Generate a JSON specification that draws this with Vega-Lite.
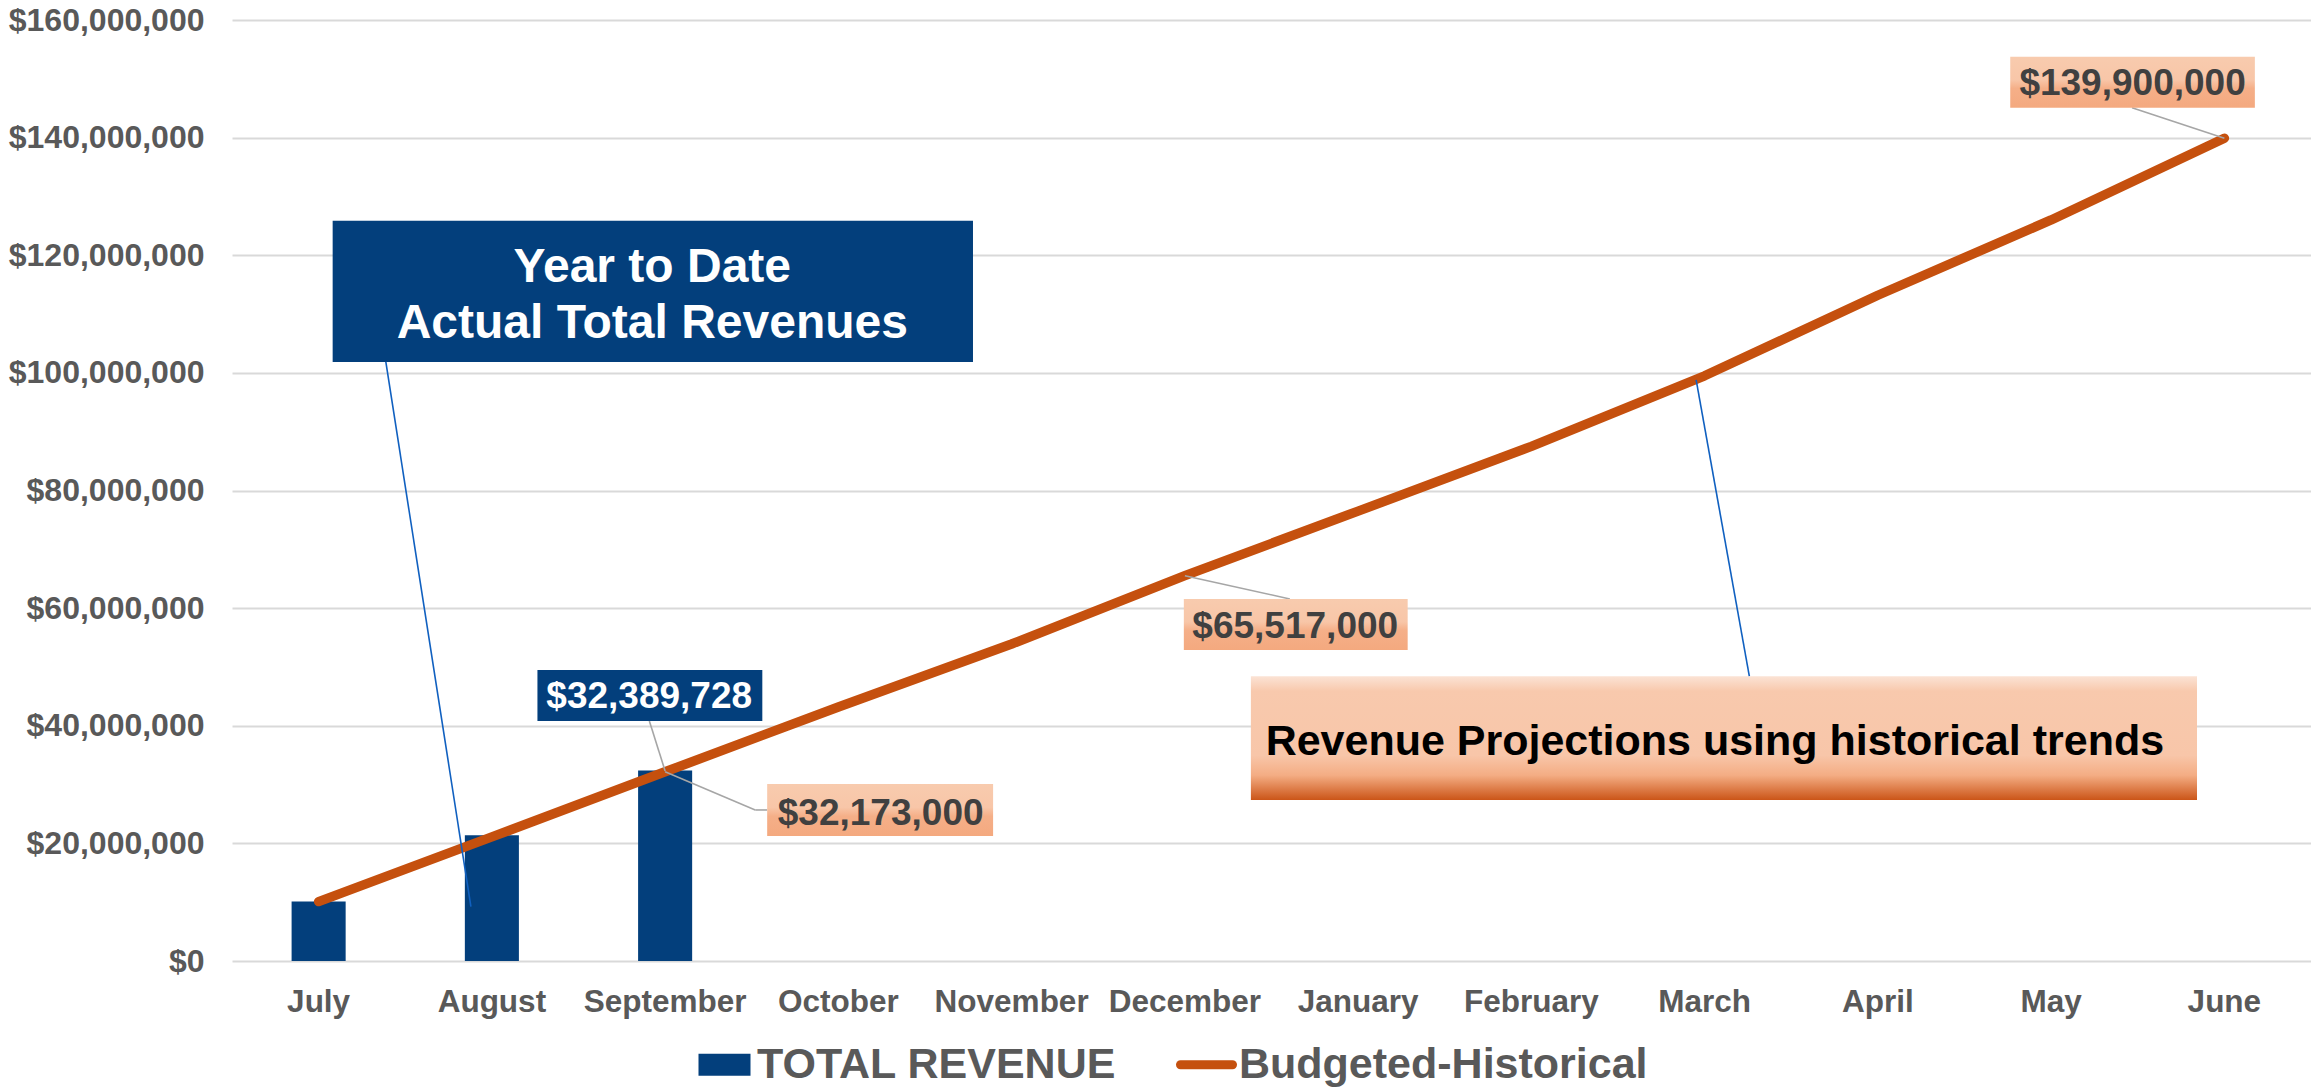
{
  "$schema": "https://vega.github.io/schema/vega-lite/v6.json",
  "width": 2079,
  "height": 941,
  "autosize": "none",
  "padding": {"left": 232, "top": 20, "right": 0, "bottom": 130},
  "background": "white",
  "config": {
    "view": {"stroke": null},
    "font": "Liberation Sans",
    "axis": {"labelFont": "Liberation Sans", "labelFontWeight": "bold", "labelColor": "#595959", "ticks": false, "domain": false, "grid": false, "title": null}
  },
  "datasets": {
    "months": [
      {"month": "July", "revenue": 10100000, "budget": 10100000},
      {"month": "August", "revenue": 21400000, "budget": 21100000},
      {"month": "September", "revenue": 32389728, "budget": 32173000},
      {"month": "October", "revenue": null, "budget": 43200000},
      {"month": "November", "revenue": null, "budget": 53900000},
      {"month": "December", "revenue": null, "budget": 65517000},
      {"month": "January", "revenue": null, "budget": 76500000},
      {"month": "February", "revenue": null, "budget": 87500000},
      {"month": "March", "revenue": null, "budget": 99500000},
      {"month": "April", "revenue": null, "budget": 113200000},
      {"month": "May", "revenue": null, "budget": 126000000},
      {"month": "June", "revenue": null, "budget": 139900000}
    ],
    "blueBoxes": [
      {"x": 0.081, "x2": 3.777, "y": 125850000, "y2": 101870000},
      {"x": 1.263, "x2": 2.561, "y": 49490000, "y2": 40820000}
    ],
    "salmonBoxes": [
      {"x": 2.589, "x2": 3.893, "y": 30100000, "y2": 21260000},
      {"x": 4.994, "x2": 6.286, "y": 61560000, "y2": 52890000},
      {"x": 9.764, "x2": 11.176, "y": 153740000, "y2": 145070000}
    ],
    "bigBox": [
      {"x": 5.381, "x2": 10.842, "y": 48430000, "y2": 27380000}
    ],
    "grayLeaders": [
      {"x": 1.909, "x2": 2.0, "y": 40820000, "y2": 32300000},
      {"x": 2.0, "x2": 2.52, "y": 32173000, "y2": 25680000},
      {"x": 2.52, "x2": 2.589, "y": 25680000, "y2": 25680000},
      {"x": 5.0, "x2": 5.606, "y": 65517000, "y2": 61560000},
      {"x": 10.467, "x2": 11.0, "y": 145070000, "y2": 139900000}
    ],
    "blueLeaders": [
      {"x": 0.388, "x2": 0.879, "y": 101870000, "y2": 9230000},
      {"x": 7.951, "x2": 8.258, "y": 98800000, "y2": 48430000}
    ],
    "whiteBig": [
      {"x": 1.926, "y": 115530000, "label": "Year to Date"},
      {"x": 1.926, "y": 105950000, "label": "Actual Total Revenues"}
    ],
    "whiteValue": [
      {"x": 1.908, "y": 42980000, "label": "$32,389,728"}
    ],
    "darkValue": [
      {"x": 3.244, "y": 23130000, "label": "$32,173,000"},
      {"x": 5.637, "y": 54880000, "label": "$65,517,000"},
      {"x": 10.47, "y": 147280000, "label": "$139,900,000"}
    ],
    "blackBig": [
      {"x": 8.059, "y": 35030000, "label": "Revenue Projections using historical trends"}
    ]
  },
  "layer": [
    {
      "data": {"name": "months"},
      "encoding": {
        "x": {"field": "month", "type": "ordinal", "sort": null,
          "scale": {"paddingInner": 0, "paddingOuter": 0},
          "axis": {"title": null, "labelAngle": 0, "labelFontSize": 31.5, "labelPadding": 25}}
      },
      "layer": [
        {
          "mark": {"type": "bar", "width": {"band": 0.312}},
          "encoding": {
            "y": {"field": "revenue", "type": "quantitative",
              "scale": {"domain": [0, 160000000], "nice": false, "zero": true},
              "axis": {"title": null, "values": [0, 20000000, 40000000, 60000000, 80000000, 100000000, 120000000, 140000000, 160000000], "format": "$,.0f", "labelFontSize": 32, "labelPadding": 28, "labelBaseline": "middle", "labelLimit": 400, "grid": true, "gridColor": "#D9D9D9", "gridWidth": 2}},
            "color": {"datum": "TOTAL REVENUE", "type": "nominal",
              "scale": {"domain": ["TOTAL REVENUE", "Budgeted-Historical"], "range": ["#033F7C", "#C5500E"]},
              "legend": {
                "title": null, "orient": "none", "legendX": 471, "legendY": 1023, "direction": "horizontal", "padding": 0,
                "labelFont": "Liberation Sans", "labelFontWeight": "bold", "labelFontSize": 43, "labelColor": "#595959",
                "labelOffset": 11, "columnPadding": 45, "symbolSize": 2704, "labelLimit": 1000,
                "encode": {"symbols": {"update": {
                  "shape": {"signal": "datum.value === 'TOTAL REVENUE' ? 'M-1,-0.42H1V0.42H-1Z' : 'stroke'"},
                  "fill": {"signal": "datum.value === 'TOTAL REVENUE' ? '#033F7C' : 'transparent'"},
                  "stroke": {"signal": "datum.value === 'TOTAL REVENUE' ? 'transparent' : '#C5500E'"},
                  "strokeWidth": {"signal": "datum.value === 'TOTAL REVENUE' ? 0 : 9"},
                  "strokeCap": {"value": "round"},
                  "opacity": {"value": 1}
                }}}
              }}
          }
        },
        {
          "mark": {"type": "line", "strokeWidth": 9.5, "strokeCap": "round", "strokeJoin": "round"},
          "encoding": {
            "y": {"field": "budget", "type": "quantitative", "scale": {"domain": [0, 160000000], "nice": false}},
            "color": {"datum": "Budgeted-Historical", "type": "nominal"}
          }
        }
      ]
    },
    {
      "encoding": {
        "x": {"field": "x", "type": "quantitative", "scale": {"domain": [-0.5, 11.5], "nice": false, "zero": false}, "axis": null},
        "y": {"field": "y", "type": "quantitative", "scale": {"domain": [0, 160000000], "nice": false}, "axis": null}
      },
      "layer": [
        {
          "data": {"name": "grayLeaders"},
          "mark": {"type": "rule", "color": "#A6A6A6", "strokeWidth": 1.6},
          "encoding": {"x2": {"field": "x2"}, "y2": {"field": "y2"}}
        },
        {
          "data": {"name": "blueBoxes"},
          "mark": {"type": "rect", "color": "#033F7C"},
          "encoding": {"x2": {"field": "x2"}, "y2": {"field": "y2"}}
        },
        {
          "data": {"name": "salmonBoxes"},
          "mark": {"type": "rect", "fill": {"gradient": "linear", "x1": 0, "y1": 0, "x2": 0, "y2": 1,
            "stops": [{"offset": 0, "color": "#F8CBAE"}, {"offset": 0.45, "color": "#F8C6A8"}, {"offset": 0.62, "color": "#F5AF88"}, {"offset": 1, "color": "#F4A97F"}]}},
          "encoding": {"x2": {"field": "x2"}, "y2": {"field": "y2"}}
        },
        {
          "data": {"name": "bigBox"},
          "mark": {"type": "rect", "fill": {"gradient": "linear", "x1": 0, "y1": 0, "x2": 0, "y2": 1,
            "stops": [{"offset": 0, "color": "#FBE3D5"}, {"offset": 0.12, "color": "#F8C9AD"}, {"offset": 0.64, "color": "#F8C6A9"}, {"offset": 0.8, "color": "#F4AD84"}, {"offset": 1, "color": "#CB5518"}]}},
          "encoding": {"x2": {"field": "x2"}, "y2": {"field": "y2"}}
        },
        {
          "data": {"name": "blueLeaders"},
          "mark": {"type": "rule", "color": "#1060C0", "strokeWidth": 1.6},
          "encoding": {"x2": {"field": "x2"}, "y2": {"field": "y2"}}
        },
        {
          "data": {"name": "whiteBig"},
          "mark": {"type": "text", "font": "Liberation Sans", "fontWeight": "bold", "fontSize": 48, "color": "#FFFFFF", "align": "center", "baseline": "alphabetic"},
          "encoding": {"text": {"field": "label"}}
        },
        {
          "data": {"name": "whiteValue"},
          "mark": {"type": "text", "font": "Liberation Sans", "fontWeight": "bold", "fontSize": 37, "color": "#FFFFFF", "align": "center", "baseline": "alphabetic"},
          "encoding": {"text": {"field": "label"}}
        },
        {
          "data": {"name": "darkValue"},
          "mark": {"type": "text", "font": "Liberation Sans", "fontWeight": "bold", "fontSize": 37, "color": "#404040", "align": "center", "baseline": "alphabetic"},
          "encoding": {"text": {"field": "label"}}
        },
        {
          "data": {"name": "blackBig"},
          "mark": {"type": "text", "font": "Liberation Sans", "fontWeight": "bold", "fontSize": 43, "color": "#000000", "align": "center", "baseline": "alphabetic"},
          "encoding": {"text": {"field": "label"}}
        }
      ]
    }
  ],
  "resolve": {"scale": {"x": "independent"}, "axis": {"y": "independent"}}
}
